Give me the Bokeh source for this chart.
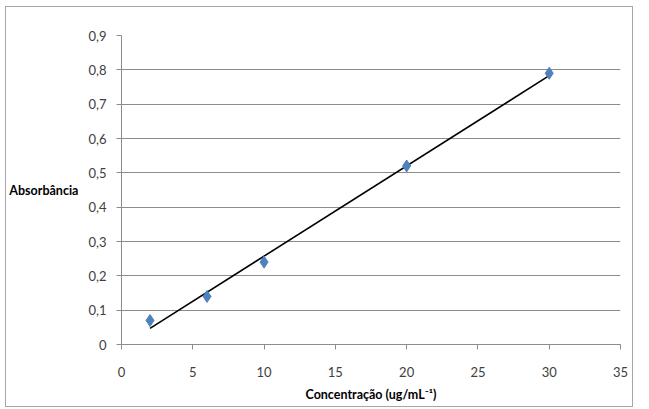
import numpy as np
from bokeh.plotting import figure
from bokeh.models import FixedTicker, CustomJSTickFormatter, ColumnDataSource
from bokeh.embed import file_html
from bokeh.resources import INLINE

# data
concentracao = [2, 6, 10, 20, 30]
absorbancia = [0.07, 0.14, 0.24, 0.52, 0.79]
x_ticks = [0, 5, 10, 15, 20, 25, 30, 35]
y_ticks = [0, 0.1, 0.2, 0.3, 0.4, 0.5, 0.6, 0.7, 0.8, 0.9]

FONT = "Lato"

p = figure(width=628, height=401, output_backend="svg", toolbar_location=None,
           x_range=(0, 35), y_range=(0, 0.9),
           min_border_left=113, min_border_right=14, min_border_top=28, min_border_bottom=64)
p.margin = (6, 0, 0, 5)
p.styles = {"border": "1px solid #a6a6a6"}
p.outline_line_color = None
p.background_fill_color = "white"
p.border_fill_color = "white"

# trendline (least squares)
slope, intercept = np.polyfit(concentracao, absorbancia, 1)
xs = [min(concentracao), max(concentracao)]
ys = [slope * v + intercept for v in xs]
p.line(xs, ys, line_color="black", line_width=1.6)

src = ColumnDataSource(dict(x=concentracao, y=absorbancia))
p.scatter("x", "y", source=src, marker="diamond", size=12, fill_color="#4F81BD",
          line_color="#4F81BD")

p.xaxis.ticker = FixedTicker(ticks=x_ticks)
p.yaxis.ticker = FixedTicker(ticks=y_ticks)
p.yaxis.formatter = CustomJSTickFormatter(
    code="return tick == 0 ? '0' : tick.toFixed(1).replace('.', ',');")

p.xgrid.grid_line_color = None
p.ygrid.grid_line_color = "#8c8c8c"
p.ygrid.grid_line_width = 1

for ax in (p.xaxis[0], p.yaxis[0]):
    ax.axis_line_color = "#8c8c8c"
    ax.major_tick_line_color = "#8c8c8c"
    ax.major_tick_out = 5
    ax.major_tick_in = 0
    ax.minor_tick_line_color = None
    ax.major_label_text_font = FONT
    ax.major_label_text_font_size = "13px"
    ax.major_label_text_color = "#404040"
    ax.axis_label_text_font = FONT
    ax.axis_label_text_font_size = "12.5px"
    ax.axis_label_text_font_style = "bold"
    ax.axis_label_text_color = "black"

p.yaxis.axis_label = "Absorbância"
p.yaxis.axis_label_orientation = "horizontal"
p.yaxis.axis_label_standoff = 7
p.yaxis.major_label_standoff = 10
p.xaxis.axis_label = "Concentração (ug/mL⁻¹)"
p.xaxis.axis_label_standoff = 7
p.xaxis.major_label_standoff = 17

open("out.html", "w").write(file_html(p, INLINE))
